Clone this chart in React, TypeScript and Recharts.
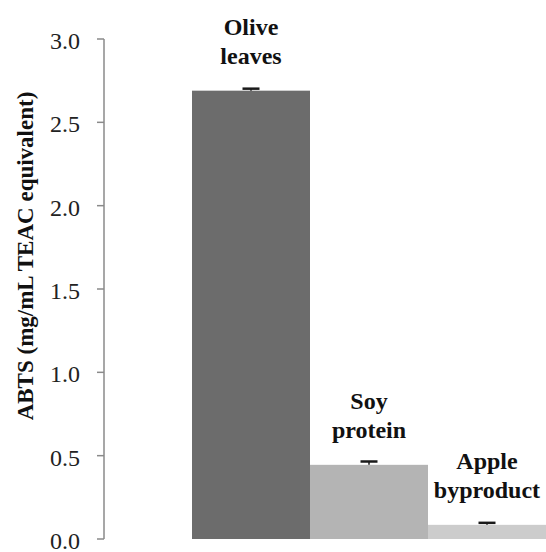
import React from 'react';
import { BarChart, Bar, XAxis, YAxis, Cell, LabelList } from 'recharts';

const categories = ['Olive leaves', 'Soy protein', 'Apple byproduct'];
const values = [2.69, 0.445, 0.085];
const errors = [0.012, 0.02, 0.012];
const yTicks = [0, 0.5, 1.0, 1.5, 2.0, 2.5, 3.0];
const barColors = ['#6c6c6c', '#b4b4b4', '#cccccc'];
const yAxisTitle = 'ABTS (mg/mL TEAC equivalent)';

const data = categories.map((name, i) => ({
  name,
  value: values[i],
  err: errors[i],
}));

const FONT = 'Liberation Serif';

// Bar with a plus-only error bar (stem + top cap), scaled from the bar's own geometry
const BarWithError = (props: any) => {
  const { x, y, width, height, fill, payload } = props;
  const pxPerUnit = payload.value ? height / payload.value : 0;
  const errPx = payload.err * pxPerUnit;
  const cx = x + width / 2;
  const capY = y - errPx;
  return (
    <g>
      <rect x={x} y={y} width={width} height={height} fill={fill} />
      <line x1={cx} y1={y} x2={cx} y2={capY} stroke="#1a1a1a" strokeWidth={1.5} />
      <line x1={cx - 8.5} y1={capY} x2={cx + 8.5} y2={capY} stroke="#1a1a1a" strokeWidth={2.5} />
    </g>
  );
};

const renderBarLabel = (props: any) => {
  const { x, y, width, index } = props;
  const lines = categories[index].split(' ');
  const cx = Number(x) + Number(width) / 2;
  const lastBaseline = Number(y) - 27;
  const lh = 29;
  return (
    <text
      textAnchor="middle"
      style={{ fontFamily: FONT, fontWeight: 'bold', fontSize: 24 }}
      fill="#111"
    >
      {lines.map((ln, i) => (
        <tspan key={i} x={cx} y={lastBaseline - (lines.length - 1 - i) * lh}>
          {ln}
        </tspan>
      ))}
    </text>
  );
};

const renderYTitle = () => (
  <text
    x={33}
    y={256}
    transform="rotate(-90, 33, 256)"
    textAnchor="middle"
    style={{ fontFamily: FONT, fontWeight: 'bold', fontSize: 23 }}
    fill="#111"
  >
    {yAxisTitle}
  </text>
);

const YTick = (props: any) => {
  const { x, y, payload } = props;
  return (
    <text
      x={x}
      y={y}
      dy={10}
      textAnchor="end"
      style={{ fontFamily: FONT, fontSize: 24 }}
      fill="#222"
    >
      {Number(payload.value).toFixed(1)}
    </text>
  );
};

export default function App() {
  return (
    <div style={{ position: 'absolute', left: 0, top: 0, background: '#fff' }}>
      <BarChart
        width={546}
        height={552}
        data={data}
        margin={{ top: 39, right: 0, bottom: 13, left: 0 }}
        barCategoryGap={0}
        barGap={0}
      >
        <XAxis dataKey="name" hide padding={{ left: 88, right: 0 }} />
        <YAxis
          width={104}
          domain={[0, 3]}
          ticks={yTicks}
          interval={0}
          tickSize={7}
          tickMargin={17}
          axisLine={{ stroke: '#8a8a8a', strokeWidth: 1.5 }}
          tickLine={{ stroke: '#8a8a8a', strokeWidth: 1.5 }}
          tick={<YTick />}
          label={{ content: renderYTitle }}
        />
        <Bar dataKey="value" isAnimationActive={false} shape={<BarWithError />}>
          {data.map((d, i) => (
            <Cell key={d.name} fill={barColors[i]} />
          ))}
          <LabelList dataKey="name" content={renderBarLabel} />
        </Bar>
      </BarChart>
    </div>
  );
}
